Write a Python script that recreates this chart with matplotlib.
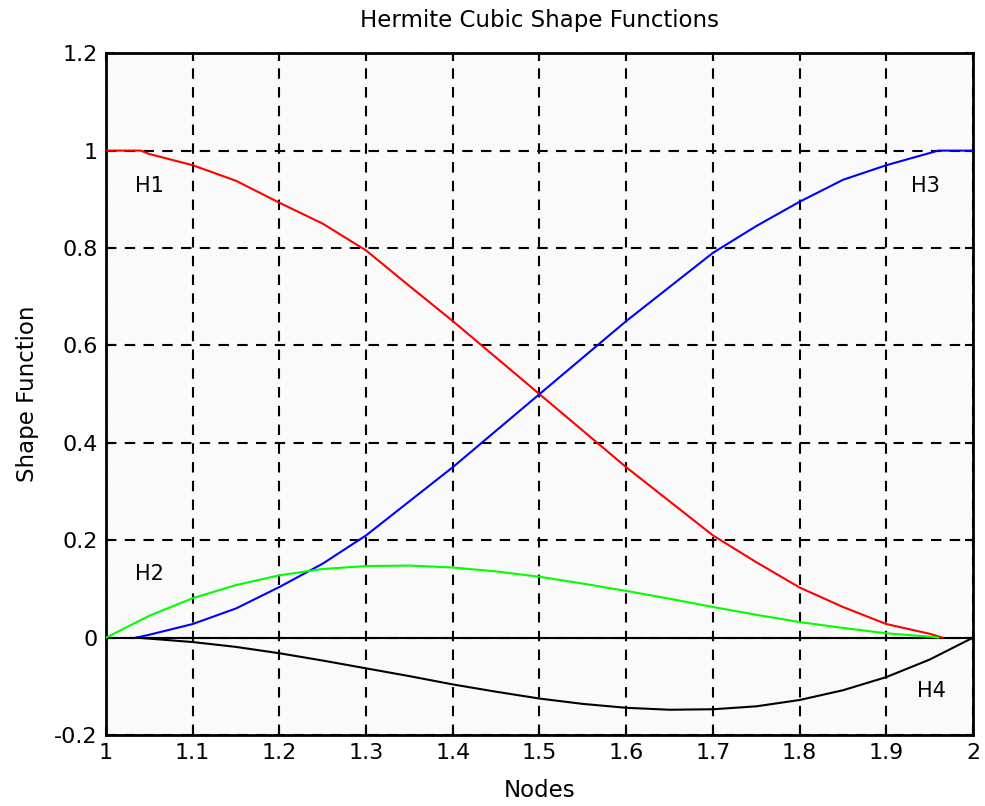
import matplotlib
matplotlib.use("Agg")
import matplotlib.pyplot as plt

# ---- data ----
x_h1 = [1.00, 1.04, 1.05, 1.10, 1.15, 1.20, 1.25, 1.30, 1.35, 1.40, 1.45, 1.50,
        1.55, 1.60, 1.65, 1.70, 1.75, 1.80, 1.85, 1.90, 1.95, 1.965]
h1 = [1.0, 1.0, 0.993, 0.970, 0.938, 0.893, 0.850, 0.795, 0.722, 0.650, 0.575, 0.500,
      0.425, 0.350, 0.280, 0.210, 0.155, 0.103, 0.063, 0.028, 0.008, 0.0]

x_h3 = [1.035, 1.05, 1.10, 1.15, 1.20, 1.25, 1.30, 1.35, 1.40, 1.45, 1.50, 1.55,
        1.60, 1.65, 1.70, 1.75, 1.80, 1.85, 1.90, 1.95, 1.96, 2.00]
h3 = [0.0, 0.006, 0.028, 0.060, 0.104, 0.152, 0.210, 0.280, 0.350, 0.425, 0.500, 0.575,
      0.650, 0.720, 0.790, 0.845, 0.895, 0.940, 0.970, 0.995, 1.0, 1.0]

x_h2 = [1.00, 1.05, 1.10, 1.15, 1.20, 1.25, 1.30, 1.35, 1.40, 1.45, 1.50, 1.55,
        1.60, 1.65, 1.70, 1.75, 1.80, 1.85, 1.90, 1.95, 1.96]
h2 = [0.0, 0.045, 0.081, 0.108, 0.128, 0.141, 0.147, 0.148, 0.144, 0.136, 0.125, 0.111,
      0.096, 0.080, 0.063, 0.047, 0.032, 0.020, 0.009, 0.002, 0.0]

x_h4 = [1.035, 1.05, 1.10, 1.15, 1.20, 1.25, 1.30, 1.35, 1.40, 1.45, 1.50, 1.55,
        1.60, 1.65, 1.70, 1.75, 1.80, 1.85, 1.90, 1.95, 2.00]
h4 = [0.0, -0.002, -0.009, -0.019, -0.032, -0.047, -0.063, -0.079, -0.096, -0.111,
      -0.125, -0.136, -0.144, -0.148, -0.147, -0.141, -0.128, -0.108, -0.081, -0.045, 0.0]

x_ticks = [1, 1.1, 1.2, 1.3, 1.4, 1.5, 1.6, 1.7, 1.8, 1.9, 2]
x_tick_labels = ["1", "1.1", "1.2", "1.3", "1.4", "1.5", "1.6", "1.7", "1.8", "1.9", "2"]
y_ticks = [-0.2, 0, 0.2, 0.4, 0.6, 0.8, 1, 1.2]
y_tick_labels = ["-0.2", "0", "0.2", "0.4", "0.6", "0.8", "1", "1.2"]

labels = ["H1", "H2", "H3", "H4"]
label_pos = [(1.033, 0.928), (1.033, 0.131), (1.928, 0.928), (1.936, -0.110)]

fig = plt.figure(figsize=(9.85, 8.06), dpi=100)
fig.patch.set_facecolor("white")
ax = fig.add_axes([0.1076, 0.088, 0.8802, 0.846])
ax.set_facecolor("#fafafa")

ax.axhline(0, color="black", lw=1.5, zorder=2)
ax.plot(x_h1, h1, color="#ff0000", lw=1.5, zorder=3)
ax.plot(x_h3, h3, color="#0000ff", lw=1.5, zorder=3)
ax.plot(x_h2, h2, color="#00ff00", lw=1.5, zorder=3)
ax.plot(x_h4, h4, color="black", lw=1.5, zorder=3)

for lab, (lx, ly) in zip(labels, label_pos):
    ax.text(lx, ly, lab, fontsize=15, va="center", ha="left", color="black")

ax.set_xlim(1, 2)
ax.set_ylim(-0.2, 1.2)
ax.set_xticks(x_ticks)
ax.set_xticklabels(x_tick_labels, fontsize=16)
ax.set_yticks(y_ticks)
ax.set_yticklabels(y_tick_labels, fontsize=16)
ax.tick_params(direction="in", length=6, width=1.5, top=True, right=True, pad=6)
ax.grid(True, color="black", linestyle=(0, (5, 4)), lw=1.5)
for s in ax.spines.values():
    s.set_linewidth(2)

ax.set_title("Hermite Cubic Shape Functions", fontsize=16.5, pad=19)
ax.set_xlabel("Nodes", fontsize=16.5, labelpad=11)
ax.set_ylabel("Shape Function", fontsize=16.5, labelpad=11)

fig.savefig("out.png", dpi=100)
